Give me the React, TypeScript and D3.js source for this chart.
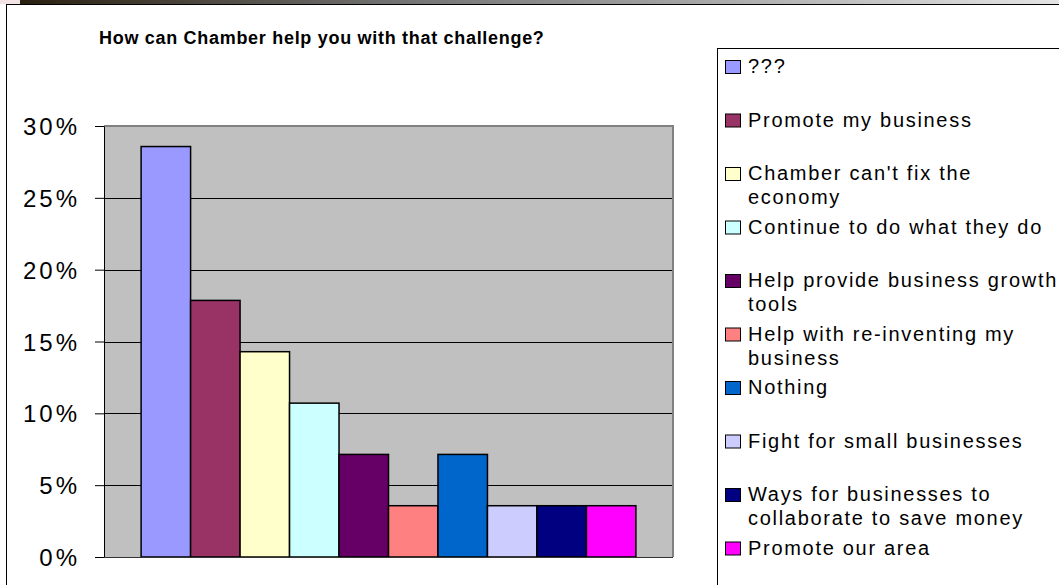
import React, { useRef, useEffect } from 'react';
import * as d3 from 'd3';

const title = 'How can Chamber help you with that challenge?';

const categories = [
  '???',
  'Promote my business',
  "Chamber can't fix the economy",
  'Continue to do what they do',
  'Help provide business growth tools',
  'Help with re-inventing my business',
  'Nothing',
  'Fight for small businesses',
  'Ways for businesses to collaborate to save money',
  'Promote our area',
];

// share of answers (28 respondents)
const values = [0.2857, 0.1786, 0.1429, 0.1071, 0.0714, 0.0357, 0.0714, 0.0357, 0.0357, 0.0357];

const colors = [
  '#9999FF', '#993366', '#FFFFCC', '#CCFFFF', '#660066',
  '#FF8080', '#0066CC', '#CCCCFF', '#000080', '#FF00FF',
];

// legend text as wrapped in the original
const legendLines = [
  ['???'],
  ['Promote my business'],
  ["Chamber can't fix the", 'economy'],
  ['Continue to do what they do'],
  ['Help provide business growth', 'tools'],
  ['Help with re-inventing my', 'business'],
  ['Nothing'],
  ['Fight for small businesses'],
  ['Ways for businesses to', 'collaborate to save money'],
  ['Promote our area'],
];

const yTicks = [0, 0.05, 0.1, 0.15, 0.2, 0.25, 0.3];

const W = 1059;
const H = 585;
const plot = { left: 104, right: 673, top: 126, bottom: 557 };

const Chart: React.FC = () => {
  const svgRef = useRef<SVGSVGElement>(null);

  useEffect(() => {
    if (!svgRef.current) return;
    const svg = d3.select(svgRef.current);
    svg.selectAll('*').remove();

    const font = 'Arial, "Liberation Sans", sans-serif';

    // thin strip at the very top (edge of the slide)
    const defs = svg.append('defs');
    const grad = defs.append('linearGradient').attr('id', 'strip').attr('x1', 0).attr('x2', 1);
    grad.append('stop').attr('offset', '0%').attr('stop-color', '#2a2010');
    grad.append('stop').attr('offset', '35%').attr('stop-color', '#707070');
    grad.append('stop').attr('offset', '100%').attr('stop-color', '#e4e4e4');
    svg.append('rect').attr('x', 0).attr('y', 0).attr('width', 20).attr('height', 4).attr('fill', '#f2e4e4');
    svg.append('rect').attr('x', 20).attr('y', 0).attr('width', W - 20).attr('height', 4).attr('fill', 'url(#strip)');

    // chart frame
    svg.append('rect')
      .attr('x', 6.5).attr('y', 4.5)
      .attr('width', W + 20).attr('height', H + 20)
      .attr('fill', '#fff').attr('stroke', '#000').attr('stroke-width', 1);

    // title
    svg.append('text')
      .attr('x', 99).attr('y', 44)
      .attr('font-family', font).attr('font-weight', 'bold')
      .attr('font-size', 18).attr('letter-spacing', 0.7)
      .attr('fill', '#000')
      .text(title);

    const y = d3.scaleLinear().domain([0, 0.3]).range([plot.bottom, plot.top]);
    const x = d3.scaleBand<string>()
      .domain(categories)
      .range([plot.left, plot.right])
      .paddingInner(0)
      .paddingOuter(0.75);

    // plot area
    svg.append('rect')
      .attr('x', plot.left).attr('y', plot.top)
      .attr('width', plot.right - plot.left).attr('height', plot.bottom - plot.top)
      .attr('fill', '#C0C0C0');

    // gridlines
    svg.append('g')
      .selectAll('line')
      .data(yTicks.filter(t => t > 0 && t < 0.3))
      .join('line')
      .attr('x1', plot.left).attr('x2', plot.right)
      .attr('y1', d => Math.round(y(d)) + 0.5).attr('y2', d => Math.round(y(d)) + 0.5)
      .attr('stroke', '#000').attr('stroke-width', 1);

    // plot border (top/right grey)
    svg.append('path')
      .attr('d', `M${plot.left},${plot.top} H${plot.right} V${plot.bottom}`)
      .attr('fill', 'none').attr('stroke', '#808080').attr('stroke-width', 2);

    // bars
    svg.append('g')
      .selectAll('rect')
      .data(categories)
      .join('rect')
      .attr('x', d => x(d)!)
      .attr('y', (d, i) => y(values[i]))
      .attr('width', x.bandwidth())
      .attr('height', (d, i) => y(0) - y(values[i]))
      .attr('fill', (d, i) => colors[i])
      .attr('stroke', '#000').attr('stroke-width', 1.5);

    // y axis
    const axis = d3.axisLeft(y)
      .tickValues(yTicks)
      .tickSize(9)
      .tickSizeOuter(0)
      .tickPadding(15)
      .tickFormat(d => `${Math.round(+d * 100)}%`);
    const ag = svg.append('g')
      .attr('transform', `translate(${plot.left},0)`)
      .call(axis);
    ag.select('.domain').attr('stroke', '#000');
    ag.selectAll('line').attr('stroke', '#000');
    ag.selectAll('text')
      .attr('font-family', font).attr('font-size', 24)
      .attr('letter-spacing', 3).attr('fill', '#000')
      .attr('dy', '0.36em');

    // x axis line
    svg.append('line')
      .attr('x1', plot.left).attr('x2', plot.right)
      .attr('y1', plot.bottom + 0.5).attr('y2', plot.bottom + 0.5)
      .attr('stroke', '#333').attr('stroke-width', 1);

    // legend
    const lg = svg.append('g');
    lg.append('rect')
      .attr('x', 717.5).attr('y', 48.5)
      .attr('width', 400).attr('height', 600)
      .attr('fill', '#fff').attr('stroke', '#000').attr('stroke-width', 1);

    const step = 53.5;
    legendLines.forEach((lines, i) => {
      const base = 73 + i * step;
      lg.append('rect')
        .attr('x', 725.5).attr('y', base - 12.5)
        .attr('width', 15).attr('height', 13)
        .attr('fill', colors[i]).attr('stroke', '#000').attr('stroke-width', 1);
      const t = lg.append('text')
        .attr('font-family', font).attr('font-size', 20)
        .attr('letter-spacing', 1.7).attr('fill', '#000');
      lines.forEach((ln, j) => {
        t.append('tspan').attr('x', 748).attr('y', base + j * 24).text(ln);
      });
    });
  }, []);

  return <svg ref={svgRef} width={W} height={H} style={{ position: 'absolute', left: 0, top: 0, background: '#fff' }} />;
};

export default function App() {
  return <Chart />;
}
